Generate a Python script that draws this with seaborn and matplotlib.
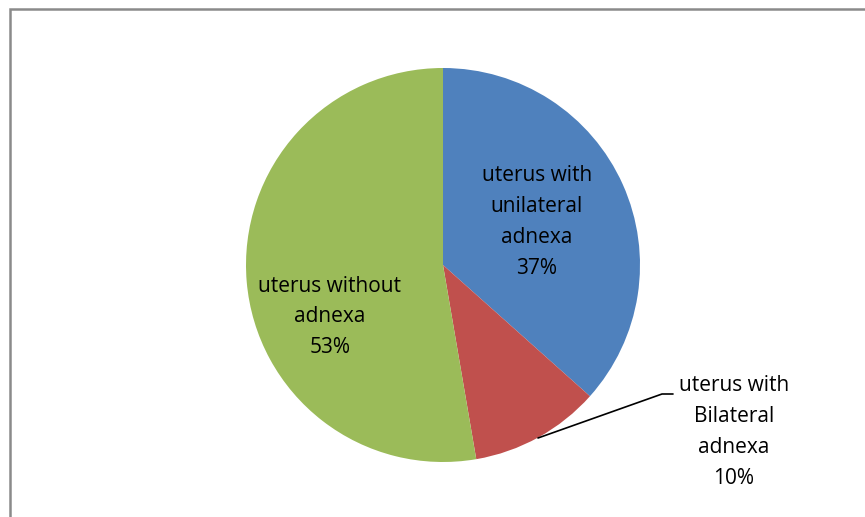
import matplotlib
matplotlib.use("Agg")
import matplotlib.pyplot as plt
import seaborn as sns
from matplotlib.patches import Rectangle

categories = ["uterus with\nunilateral\nadnexa", "uterus with\nBilateral\nadnexa", "uterus without\nadnexa"]
values = [36.6, 10.7, 52.7]
percent_labels = ["37%", "10%", "53%"]
colors = ["#4F81BD", "#C0504D", "#9BBB59"]

sns.set_theme(style="white")
plt.rcParams['font.family'] = ['Open Sans', 'DejaVu Sans']

W, H = 865, 517
fig = plt.figure(figsize=(W / 100, H / 100), dpi=100)
ax = fig.add_axes([0, 0, 1, 1])

cx, cy, r = 443, H - 265, 197
wedges, _ = ax.pie(values, colors=colors, startangle=90, counterclock=False,
                   center=(cx, cy), radius=r, frame=True,
                   wedgeprops=dict(linewidth=0))
ax.set_xlim(0, W)
ax.set_ylim(0, H)
ax.set_aspect('equal')
ax.axis('off')

fs = 15
ls = 1.62
labels = [f"{c}\n{p}" for c, p in zip(categories, percent_labels)]
ax.text(537, H - 222, labels[0], ha='center', va='center', fontsize=fs, color='black', linespacing=ls)
ax.text(330, H - 317, labels[2], ha='center', va='center', fontsize=fs, color='black', linespacing=ls)
ax.text(734, H - 432, labels[1], ha='center', va='center', fontsize=fs, color='black', linespacing=ls)
ax.plot([538, 662, 673], [H - 438, H - 394, H - 394], color='black', lw=1.2)

fig.patches.append(Rectangle((10 / W, -0.1), 1.2, (H - 9) / H + 0.1, transform=fig.transFigure,
                             fill=False, edgecolor='#8a8a8a', linewidth=1.8))

fig.savefig("out.png", dpi=100, facecolor='white')
